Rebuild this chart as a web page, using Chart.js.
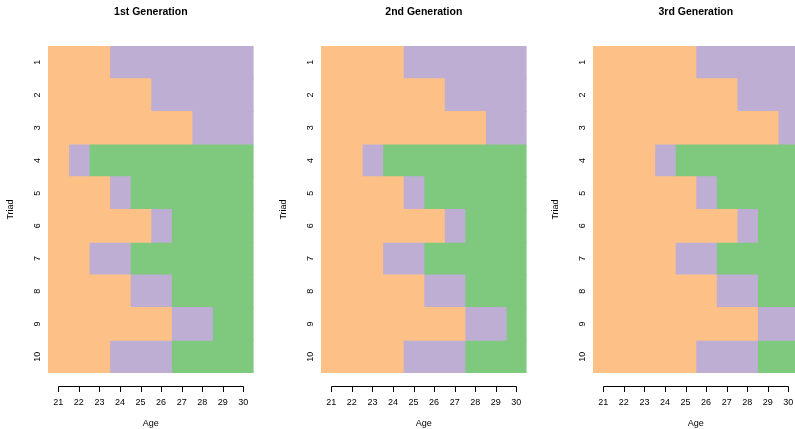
<!DOCTYPE html>
<html>
<head>
<meta charset="utf-8">
<script src="https://cdn.jsdelivr.net/npm/chart.js@4.4.1/dist/chart.umd.min.js"></script>
<style>
  html, body { margin: 0; padding: 0; background: #fff; }
  #wrap { position: relative; width: 795px; height: 429px; overflow: hidden; }
  #wrap canvas { position: absolute; top: 0; }
</style>
</head>
<body>
<div id="wrap">
  <canvas id="g1" width="273" height="429" style="left:0px"></canvas>
  <canvas id="g2" width="273" height="429" style="left:273px"></canvas>
  <canvas id="g3" width="273" height="429" style="left:545px"></canvas>
</div>
<script>
// Ages (columns) and triads (rows)
const ages = [21, 22, 23, 24, 25, 26, 27, 28, 29, 30];
const triads = ['1', '2', '3', '4', '5', '6', '7', '8', '9', '10'];

// State colours: 1 = orange, 2 = purple, 3 = green
const stateColors = ['#FDC086', '#BEAED4', '#7FC97F'];

const titles = ['1st Generation', '2nd Generation', '3rd Generation'];

// State of each triad at each age, one row per triad
const gen1 = [
  [1, 1, 1, 2, 2, 2, 2, 2, 2, 2],
  [1, 1, 1, 1, 1, 2, 2, 2, 2, 2],
  [1, 1, 1, 1, 1, 1, 1, 2, 2, 2],
  [1, 2, 3, 3, 3, 3, 3, 3, 3, 3],
  [1, 1, 1, 2, 3, 3, 3, 3, 3, 3],
  [1, 1, 1, 1, 1, 2, 3, 3, 3, 3],
  [1, 1, 2, 2, 3, 3, 3, 3, 3, 3],
  [1, 1, 1, 1, 2, 2, 3, 3, 3, 3],
  [1, 1, 1, 1, 1, 1, 2, 2, 3, 3],
  [1, 1, 1, 2, 2, 2, 3, 3, 3, 3]
];
const gen2 = [
  [1, 1, 1, 1, 2, 2, 2, 2, 2, 2],
  [1, 1, 1, 1, 1, 1, 2, 2, 2, 2],
  [1, 1, 1, 1, 1, 1, 1, 1, 2, 2],
  [1, 1, 2, 3, 3, 3, 3, 3, 3, 3],
  [1, 1, 1, 1, 2, 3, 3, 3, 3, 3],
  [1, 1, 1, 1, 1, 1, 2, 3, 3, 3],
  [1, 1, 1, 2, 2, 3, 3, 3, 3, 3],
  [1, 1, 1, 1, 1, 2, 2, 3, 3, 3],
  [1, 1, 1, 1, 1, 1, 1, 2, 2, 3],
  [1, 1, 1, 1, 2, 2, 2, 3, 3, 3]
];
const gen3 = [
  [1, 1, 1, 1, 1, 2, 2, 2, 2, 2],
  [1, 1, 1, 1, 1, 1, 1, 2, 2, 2],
  [1, 1, 1, 1, 1, 1, 1, 1, 1, 2],
  [1, 1, 1, 2, 3, 3, 3, 3, 3, 3],
  [1, 1, 1, 1, 1, 2, 3, 3, 3, 3],
  [1, 1, 1, 1, 1, 1, 1, 2, 3, 3],
  [1, 1, 1, 1, 2, 2, 3, 3, 3, 3],
  [1, 1, 1, 1, 1, 1, 2, 2, 3, 3],
  [1, 1, 1, 1, 1, 1, 1, 1, 2, 2],
  [1, 1, 1, 1, 1, 2, 2, 2, 3, 3]
];

const FONT = 'Liberation Sans, Arial, Helvetica, sans-serif';

// For each state, the age span [from, to] it covers in every triad
function spans(rows) {
  return stateColors.map((c, s) => rows.map(r => {
    const idx = [];
    r.forEach((v, i) => { if (v === s + 1) idx.push(i); });
    return idx.length ? [ages[idx[0]] - 0.5, ages[idx[idx.length - 1]] + 0.5] : null;
  }));
}

// Axis line spanning the first to last tick, set a little below the plot, ticks pointing down
const offsetAxis = {
  id: 'offsetAxis',
  afterDraw(chart) {
    const sx = chart.scales.x;
    const ctx = chart.ctx;
    const y = Math.round(chart.chartArea.bottom + 13) + 0.5;
    const x0 = Math.round(sx.getPixelForValue(ages[0])) + 0.5;
    const x1 = Math.round(sx.getPixelForValue(ages[ages.length - 1])) + 0.5;
    ctx.save();
    ctx.strokeStyle = '#000';
    ctx.lineWidth = 1;
    ctx.beginPath();
    ctx.moveTo(x0, y);
    ctx.lineTo(x1, y);
    sx.ticks.forEach(t => {
      const px = Math.round(sx.getPixelForValue(t.value)) + 0.5;
      ctx.moveTo(px, y);
      ctx.lineTo(px, y + 5.5);
    });
    ctx.stroke();
    ctx.restore();
  }
};

// Invisible tick marks used only as spacing between plot and labels
const hiddenGrid = len => ({
  display: true,
  drawOnChartArea: false,
  drawTicks: true,
  tickLength: len,
  color: 'rgba(0,0,0,0)'
});

function makePanel(id, title, rows) {
  const sets = spans(rows).map((data, s) => ({
    data,
    backgroundColor: stateColors[s],
    borderWidth: 0,
    inflateAmount: 0.5,
    grouped: false,
    barPercentage: 1,
    categoryPercentage: 1
  }));
  new Chart(document.getElementById(id), {
    type: 'bar',
    data: { labels: triads, datasets: sets },
    plugins: [offsetAxis],
    options: {
      indexAxis: 'y',
      responsive: false,
      animation: false,
      devicePixelRatio: 1,
      layout: { padding: { left: 0, right: 19.4, top: 0, bottom: 0 } },
      plugins: {
        legend: { display: false },
        tooltip: { enabled: false },
        title: {
          display: true,
          text: title,
          fullSize: false,
          color: '#000',
          font: { family: FONT, size: 10.5, weight: 'bold', lineHeight: 1.2 },
          padding: { top: 5.4, bottom: 28 }
        }
      },
      scales: {
        x: {
          type: 'linear',
          min: 20.5,
          max: 30.5,
          afterBuildTicks: s => { s.ticks = ages.map(v => ({ value: v })); },
          grid: hiddenGrid(24.1),
          border: { display: false },
          ticks: {
            color: '#000',
            font: { family: FONT, size: 9, lineHeight: 1.2 },
            padding: 0,
            autoSkip: false,
            maxRotation: 0
          },
          title: {
            display: true,
            text: 'Age',
            color: '#000',
            font: { family: FONT, size: 9, lineHeight: 1 },
            padding: { top: 11.6, bottom: 0.5 }
          }
        },
        y: {
          type: 'category',
          grid: hiddenGrid(5.7),
          border: { display: false },
          ticks: {
            color: '#000',
            font: { family: FONT, size: 9, lineHeight: 1.2 },
            minRotation: 90,
            maxRotation: 90,
            crossAlign: 'center',
            padding: 0,
            autoSkip: false
          },
          title: {
            display: true,
            text: 'Triad',
            color: '#000',
            font: { family: FONT, size: 9, lineHeight: 1 },
            padding: { top: 6.5, bottom: 16 }
          }
        }
      }
    }
  });
}

makePanel('g1', titles[0], gen1);
makePanel('g2', titles[1], gen2);
makePanel('g3', titles[2], gen3);
</script>
</body>
</html>
